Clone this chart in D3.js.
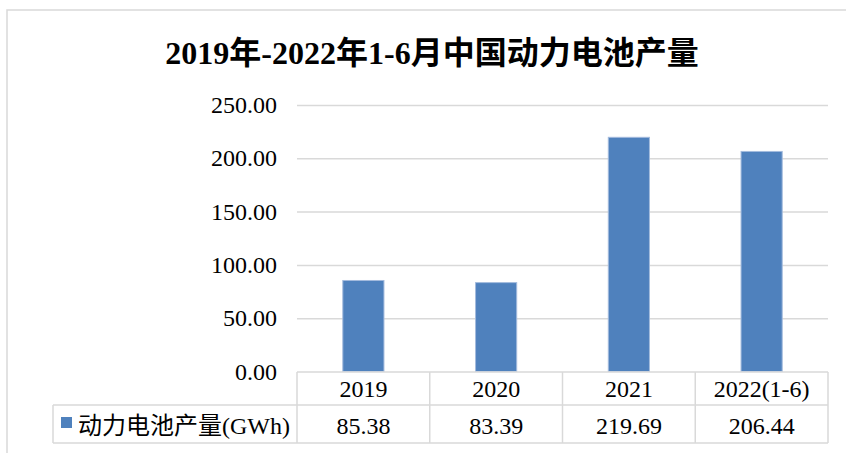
<!DOCTYPE html>
<html>
<head>
<meta charset="utf-8">
<script src="https://cdn.jsdelivr.net/npm/d3@7"></script>
<style>
  html, body { margin: 0; padding: 0; background: #fff; }
  svg { display: block; }
  text { font-family: "Liberation Serif", "Times New Roman", "Noto Sans CJK SC", serif; fill: #000; }
</style>
</head>
<body>
<svg id="chart" width="846" height="453"></svg>
<script>
// Production of power batteries in China (GWh)
const title = "2019年-2022年1-6月中国动力电池产量";
const categories = ["2019", "2020", "2021", "2022(1-6)"];
const seriesName = "动力电池产量(GWh)";
const values = [85.38, 83.39, 219.69, 206.44];
const yTicks = [0, 50, 100, 150, 200, 250];

const svg = d3.select("#chart");
const grid = "#d9d9d9";
const barColor = "#4f81bd";

// outer chart frame (runs off the right and bottom edges)
svg.append("rect")
  .attr("x", 7).attr("y", 10)
  .attr("width", 900).attr("height", 500)
  .attr("fill", "#fff").attr("stroke", grid).attr("stroke-width", 1.5);

// title
svg.append("text")
  .attr("x", 432).attr("y", 64)
  .attr("text-anchor", "middle")
  .style("font-size", "32px").style("font-weight", "bold")
  .text(title);

const plot = { left: 297, right: 828, top: 105, bottom: 371.5 };

const x = d3.scaleBand()
  .domain(categories)
  .range([plot.left, plot.right])
  .paddingInner(0.69)
  .paddingOuter(0.345);

const cell = d3.scaleBand()
  .domain(categories)
  .range([plot.left, plot.right])
  .padding(0);

const y = d3.scaleLinear()
  .domain([0, 250])
  .range([plot.bottom, plot.top]);

// horizontal gridlines and value labels via a left axis
const yAxis = d3.axisLeft(y)
  .tickValues(yTicks)
  .tickFormat(d3.format(".2f"))
  .tickSize(-(plot.right - plot.left))
  .tickPadding(20);

const gy = svg.append("g")
  .attr("transform", `translate(${plot.left},0)`)
  .call(yAxis);
gy.select(".domain").remove();
gy.selectAll(".tick line")
  .attr("stroke", grid).attr("stroke-width", 1.5)
  .filter(d => d === 0).remove();
gy.selectAll(".tick text")
  .style("font-size", "24px")
  .style("font-family", "'Liberation Serif', 'Times New Roman', serif")
  .attr("fill", "#000");

// bars
svg.append("g").selectAll("rect")
  .data(values)
  .join("rect")
  .attr("x", (d, i) => x(categories[i]))
  .attr("width", x.bandwidth())
  .attr("y", d => y(d))
  .attr("height", d => y(0) - y(d))
  .attr("fill", barColor)
  .attr("stroke", "#a3bbdd")
  .attr("stroke-width", 1);

// data table under the plot
const rowTop = 372, rowMid = 405, rowBot = 443, tableLeft = 53;
const tbl = svg.append("g")
  .attr("stroke", grid).attr("stroke-width", 1.5).attr("fill", "none");

tbl.append("line").attr("x1", plot.left).attr("x2", plot.right).attr("y1", rowTop).attr("y2", rowTop);
tbl.append("line").attr("x1", tableLeft).attr("x2", plot.right).attr("y1", rowMid).attr("y2", rowMid);
tbl.append("line").attr("x1", tableLeft).attr("x2", plot.right).attr("y1", rowBot).attr("y2", rowBot);
tbl.append("line").attr("x1", tableLeft).attr("x2", tableLeft).attr("y1", rowMid).attr("y2", rowBot);

const edges = categories.map(c => cell(c)).concat([plot.right]);
tbl.selectAll("line.col")
  .data(edges)
  .join("line")
  .attr("class", "col")
  .attr("x1", d => d).attr("x2", d => d)
  .attr("y1", rowTop).attr("y2", rowBot);

// category row
svg.append("g").selectAll("text")
  .data(categories)
  .join("text")
  .attr("x", d => cell(d) + cell.bandwidth() / 2)
  .attr("y", 397)
  .attr("text-anchor", "middle")
  .style("font-size", "24px")
  .text(d => d);

// value row
svg.append("g").selectAll("text")
  .data(values)
  .join("text")
  .attr("x", (d, i) => cell(categories[i]) + cell.bandwidth() / 2)
  .attr("y", 434)
  .attr("text-anchor", "middle")
  .style("font-size", "24px")
  .text(d => d3.format(".2f")(d));

// legend key and series name
svg.append("rect")
  .attr("x", 61).attr("y", 417)
  .attr("width", 11).attr("height", 11)
  .attr("fill", barColor);
svg.append("text")
  .attr("x", 78).attr("y", 434)
  .style("font-size", "24px")
  .text(seriesName);
</script>
</body>
</html>
